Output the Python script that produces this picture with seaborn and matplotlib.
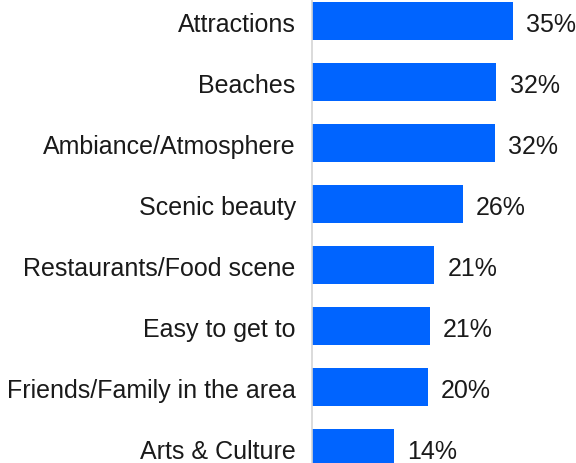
import matplotlib
matplotlib.use("Agg")
import matplotlib.pyplot as plt
import seaborn as sns
import pandas as pd

categories = ["Attractions", "Beaches", "Ambiance/Atmosphere", "Scenic beauty",
              "Restaurants/Food scene", "Easy to get to",
              "Friends/Family in the area", "Arts & Culture"]
values = [35.2, 32.3, 32.0, 26.4, 21.4, 20.6, 20.3, 14.3]

sns.set_theme(style="white")
plt.rcParams["font.family"] = ["Liberation Sans", "DejaVu Sans"]

df = pd.DataFrame({"cat": categories, "val": values})

fig = plt.figure(figsize=(5.76, 4.64), dpi=100)
x0 = 311.7 / 576
ax = fig.add_axes([x0, 0, 1 - x0, 1])
sns.barplot(data=df, x="val", y="cat", color="#0064FF", saturation=1,
            width=0.623, ax=ax, edgecolor="none")

ax.set_xlim(0, 46.2)
ax.set_ylim(7.24, -0.366)
ax.set_xlabel("")
ax.set_ylabel("")
ax.xaxis.set_visible(False)
for s in ["top", "right", "bottom"]:
    ax.spines[s].set_visible(False)
ax.spines["left"].set_color("#d4d4d4")
ax.spines["left"].set_linewidth(1.2)
ax.tick_params(axis="y", length=0, pad=11.5, labelsize=18, labelcolor="#1a1a1a")

for i, v in enumerate(values):
    ax.text(v + 2.3, i + 0.04, f"{v:.0f}%", va="center", ha="left",
            fontsize=18, color="#1a1a1a")

fig.savefig("out.png", dpi=100)
